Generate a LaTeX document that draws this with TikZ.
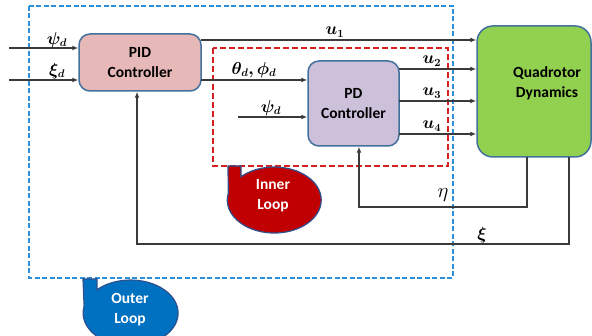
\documentclass[tikz,border=0pt]{standalone}
\usepackage{amsmath,bm}
\usepackage{fontspec}
\setmainfont{Carlito}
\usetikzlibrary{arrows.meta}
\definecolor{lineg}{HTML}{3A3A3A}
\definecolor{bluedash}{HTML}{2E8FD8}
\definecolor{reddash}{HTML}{D42020}
\definecolor{blkborder}{HTML}{41719C}
\definecolor{pidfill}{HTML}{E6B8B7}
\definecolor{pdfill}{HTML}{CCC0DA}
\definecolor{quadfill}{HTML}{92D050}
\definecolor{innerfill}{HTML}{C00000}
\definecolor{outerfill}{HTML}{0070C0}
\definecolor{callborder}{HTML}{2F528F}
\tikzset{
  blk/.style={draw=blkborder, line width=1.5pt, rounded corners=11pt, inner sep=0pt,
    font=\fontsize{15.5}{20}\selectfont\bfseries, align=center},
  sig/.style={draw=lineg, line width=1.2pt, -{Latex[length=6pt,width=5pt]}},
  lbl/.style={font=\fontsize{16}{18}\selectfont, inner sep=0pt},
  call/.style={draw=callborder, line width=1.2pt},
  calltext/.style={text=white, font=\fontsize{15.5}{20}\selectfont\bfseries, align=center},
}
\begin{document}
\begin{tikzpicture}[x=1pt,y=1pt]
\useasboundingbox (0,0) rectangle (592,-336);
% blocks
\node[blk, fill=pidfill, minimum width=122pt, minimum height=57pt] (pid) at (140,-62.5) {PID\\Controller};
\node[blk, fill=pdfill, minimum width=91pt, minimum height=85pt] (pd) at (353.5,-103.5) {PD\\Controller};
\node[blk, fill=quadfill, minimum width=114pt, minimum height=131pt, rounded corners=16pt] (quad) at (534,-91.5) {};
\node[font=\fontsize{15.5}{20}\selectfont\bfseries, align=center] (quadtxt) at (547,-83) {Quadrotor\\Dynamics};
% dashed loops
\draw[bluedash, line width=1.6pt, dash pattern=on 5pt off 2.5pt] (29,-6) rectangle (453,-278);
\draw[reddash, line width=1.6pt, dash pattern=on 6pt off 3pt] (213,-48) rectangle (448,-166);
% inputs
\coordinate (in1) at (9,-48);
\coordinate (in2) at (9,-80);
\draw[sig] (in1) -- (pid.west |- in1);
\draw[sig] (in2) -- (pid.west |- in2);
\node[lbl] (lpsi) at (57,-40) {$\bm{\psi_d}$};
\node[lbl] (lxi) at (57,-71) {$\bm{\xi_d}$};
% u1
\coordinate (u1s) at (201,-40);
\draw[sig] (u1s) -- (quad.west |- u1s);
\node[lbl] (lu1) at (335,-32) {$\bm{u_1}$};
% theta phi
\coordinate (tps) at (201,-80);
\draw[sig] (tps) -- (pd.west |- tps);
\node[lbl] (ltp) at (254,-70) {$\bm{\theta_d,\phi_d}$};
% psi inner
\coordinate (psi2) at (238,-117);
\draw[sig] (psi2) -- (pd.west |- psi2);
\node[lbl] (lpsi2) at (271,-108) {$\bm{\psi_d}$};
% u2-u4
\coordinate (u2s) at (399,-69);
\coordinate (u3s) at (399,-101);
\coordinate (u4s) at (399,-134);
\draw[sig] (u2s) -- (quad.west |- u2s);
\draw[sig] (u3s) -- (quad.west |- u3s);
\draw[sig] (u4s) -- (quad.west |- u4s);
\node[lbl] (lu2) at (432,-61) {$\bm{u_2}$};
\node[lbl] (lu3) at (432,-93) {$\bm{u_3}$};
\node[lbl] (lu4) at (432,-126) {$\bm{u_4}$};
% feedback eta
\coordinate (eta0) at (527,-157);
\coordinate (eta1) at (527,-207);
\coordinate (eta2) at (359,-207);
\draw[sig] (eta0) -- (eta1) -- (eta2) -- (pd.south -| eta2);
\node[font=\fontsize{20}{22}\selectfont, inner sep=0pt] (leta) at (443,-195) {$\eta$};
% feedback xi
\coordinate (xi0) at (569,-157);
\coordinate (xi1) at (569,-244);
\coordinate (xi2) at (137,-244);
\draw[sig] (xi0) -- (xi1) -- (xi2) -- (pid.south -| xi2);
\node[lbl] (lxi2) at (482,-235) {$\bm{\xi}$};
% inner loop callout
\fill[innerfill] (228,-166) -- (241,-166) -- (241,-176.7)
  arc[start angle=135, end angle=-192, x radius=47pt, y radius=33pt] -- cycle;
\draw[call] (228,-166) -- (241,-166) -- (241,-176.7)
  arc[start angle=135, end angle=-192, x radius=47pt, y radius=33pt] -- cycle;
\node[calltext] (inner) at (273,-196) {Inner\\Loop};
% outer loop callout
\fill[outerfill] (83,-279) -- (97,-279) -- (97,-289.7)
  arc[start angle=135, end angle=-192, x radius=47.5pt, y radius=33pt] -- cycle;
\draw[call] (83,-279) -- (97,-279) -- (97,-289.7)
  arc[start angle=135, end angle=-192, x radius=47.5pt, y radius=33pt] -- cycle;
\node[calltext] (outer) at (130,-310) {Outer\\Loop};
\end{tikzpicture}
\end{document}
